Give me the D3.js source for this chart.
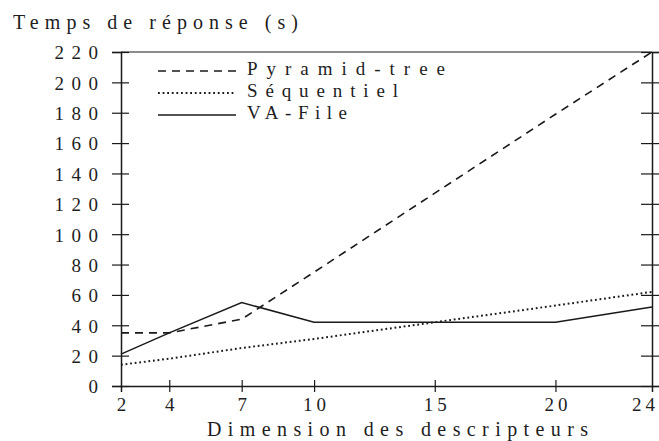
<!DOCTYPE html>
<html>
<head>
  <meta charset="UTF-8">
  <title>Temps de réponse</title>
  <script src="https://d3js.org/d3.v7.min.js"></script>
  <style>
    body { margin: 0; background: #fff; }
  </style>
</head>
<body>
<script>
  // data
  const dims = [2, 4, 7, 10, 15, 20, 24];
  const pyramidTree = [35, 35, 44, 75, 127, 179, 220];
  const sequentiel = [14, 18, 25, 31, 42, 53, 62];
  const vaFile = [21, 35, 55, 42, 42, 42, 52];
  const yTicks = [0, 20, 40, 60, 80, 100, 120, 140, 160, 180, 200, 220];
  const seriesNames = ['Pyramid-tree', 'Séquentiel', 'VA-File'];

  const width = 659, height = 441;
  const plotLeft = 121, plotRight = 652, plotTop = 52, plotBottom = 386;
  const ink = '#1a1a1a';
  const serif = '"Liberation Serif"';

  const svg = d3.select('body').append('svg')
    .attr('width', width)
    .attr('height', height);

  const x = d3.scaleLinear().domain([2, 24]).range([plotLeft, plotRight]);
  const y = d3.scaleLinear().domain([0, 220]).range([plotBottom, plotTop]);

  // frame: top line
  svg.append('line').attr('x1', plotLeft).attr('x2', plotRight).attr('y1', plotTop).attr('y2', plotTop)
    .attr('stroke', ink).attr('stroke-width', 1.2);

  // left axis, ticks crossing
  const yAxis = svg.append('g')
    .attr('transform', `translate(${plotLeft},0)`)
    .call(d3.axisLeft(y).tickValues(yTicks).tickSize(9).tickFormat(d3.format('d')));
  yAxis.select('.domain').attr('stroke', ink).attr('stroke-width', 1.5);
  yAxis.selectAll('.tick line').attr('x1', 8).attr('stroke', ink).attr('stroke-width', 1.2);
  yAxis.selectAll('.tick text')
    .attr('x', -23 + 7.5).attr('dy', '0.36em')
    .style('font-family', serif)
    .style('font-size', '19px').style('letter-spacing', '7.5px')
    .attr('fill', '#1e1e1e');

  // right axis
  const yAxisR = svg.append('g')
    .attr('transform', `translate(${plotRight},0)`)
    .call(d3.axisRight(y).tickValues(yTicks).tickSize(7).tickFormat(''));
  yAxisR.select('.domain').attr('stroke', ink).attr('stroke-width', 1.5);
  yAxisR.selectAll('.tick line').attr('x1', -11).attr('stroke', ink).attr('stroke-width', 1.2);

  // bottom axis
  const xAxis = svg.append('g')
    .attr('transform', `translate(0,${plotBottom})`)
    .call(d3.axisBottom(x).tickValues(dims).tickSize(6).tickFormat(d3.format('d')));
  xAxis.select('.domain').attr('stroke', ink).attr('stroke-width', 1.5);
  xAxis.selectAll('.tick line').attr('y1', -6).attr('stroke', ink).attr('stroke-width', 1.2)
    .attr('display', d => (d === 2 || d === 24) ? 'none' : null);
  xAxis.selectAll('.tick text')
    .attr('y', 25).attr('dy', 0)
    .attr('dx', d => d === 24 ? -7 : 2)
    .style('font-family', serif)
    .style('font-size', '19px').style('letter-spacing', '4px')
    .attr('fill', '#1e1e1e');

  // titles
  svg.append('text').attr('x', 13).attr('y', 29)
    .attr('textLength', 285).attr('lengthAdjust', 'spacing')
    .attr('fill', '#1e1e1e')
    .style('font-family', serif)
    .style('font-size', '20px').text('Temps de réponse (s)');
  svg.append('text').attr('x', 207).attr('y', 436)
    .attr('textLength', 381).attr('lengthAdjust', 'spacing')
    .attr('fill', '#1e1e1e')
    .style('font-family', serif)
    .style('font-size', '20px').text('Dimension des descripteurs');

  // series
  const styles = [
    { data: pyramidTree, dash: '8,6', width: 1.6 },
    { data: sequentiel, dash: '1.8,2.8', width: 2 },
    { data: vaFile, dash: null, width: 1.5 }
  ];
  const line = d3.line().x(d => x(d[0])).y(d => y(d[1]));

  styles.forEach(s => {
    svg.append('path')
      .datum(dims.map((d, i) => [d, s.data[i]]))
      .attr('d', line)
      .attr('fill', 'none')
      .attr('stroke', ink)
      .attr('stroke-width', s.width)
      .attr('stroke-dasharray', s.dash);
  });

  // legend
  const legendWidths = [198, 151, 100];
  const legend = svg.append('g');
  seriesNames.forEach((name, i) => {
    const base = 75 + i * 22;
    legend.append('line')
      .attr('x1', 158).attr('x2', 236)
      .attr('y1', base - 4).attr('y2', base - 4)
      .attr('stroke', ink)
      .attr('stroke-width', styles[i].width)
      .attr('stroke-dasharray', styles[i].dash);
    legend.append('text')
      .attr('x', 247).attr('y', base)
      .attr('textLength', legendWidths[i]).attr('lengthAdjust', 'spacing')
      .attr('fill', '#1e1e1e')
      .style('font-family', serif)
      .style('font-size', '19px').text(name);
  });
</script>
</body>
</html>
